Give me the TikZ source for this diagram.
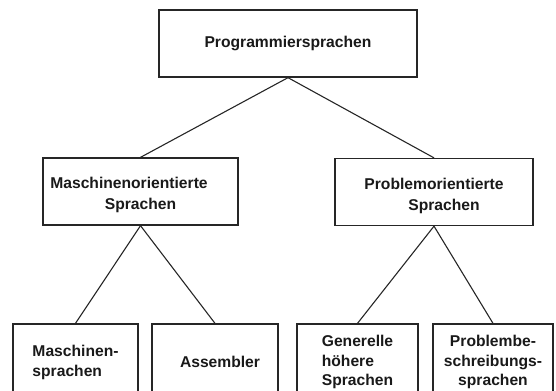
\documentclass[tikz,border=0pt]{standalone}
\usepackage{fontspec}
\setmainfont{Liberation Sans}
\tikzset{box/.style={draw=black!85, line width=1.3bp, text=black!90, minimum width=#1, minimum height=67bp, inner sep=0pt, font=\fontsize{15.7}{20}\selectfont\bfseries},
%default width is that of the lowest boxes
box/.default={125bp}}

\begin{document}
\begin{tikzpicture}[x=1bp,y=-1bp]

    \useasboundingbox (0,0) rectangle (556,390);
    \clip (0,0) rectangle (556,390);

    \node[box=258bp] (prog) at (288,43.5) {Programmiersprachen};

    \node[box=195bp, align=center, font=\fontsize{15.7}{21}\selectfont\bfseries] (masch) at (140.5,191.5) {\rule{0pt}{19bp}Maschinenorientierte\kern23bp\\Sprachen};
    \node[box=198bp, align=center, font=\fontsize{15.7}{21}\selectfont\bfseries] (probl) at (434,192) {\rule{0pt}{19bp}Problemorientierte\\\kern20bp Sprachen};

    % the lowest boxes run out at the bottom edge
    \node[box=125bp, minimum height=76bp, align=left] (mspr) at (75.5,362) {Maschinen-\\sprachen};
    \node[box=126bp, minimum height=76bp] (asm) at (215,362) {\kern10bp Assembler};
    \node[box=121bp, minimum height=76bp, align=left] (gen) at (357.5,362) {Generelle\\höhere\\Sprachen};
    \node[box=120bp, minimum height=76bp, align=center] (pbs) at (493,362) {Problembe-\\schreibungs-\\sprachen};

    \foreach \a/\b in {prog/masch, prog/probl, masch/mspr, masch/asm, probl/gen, probl/pbs}
    \draw[black!85, line width=1.1bp] (\a.south) -- (\b.north);

  \end{tikzpicture}
\end{document}
